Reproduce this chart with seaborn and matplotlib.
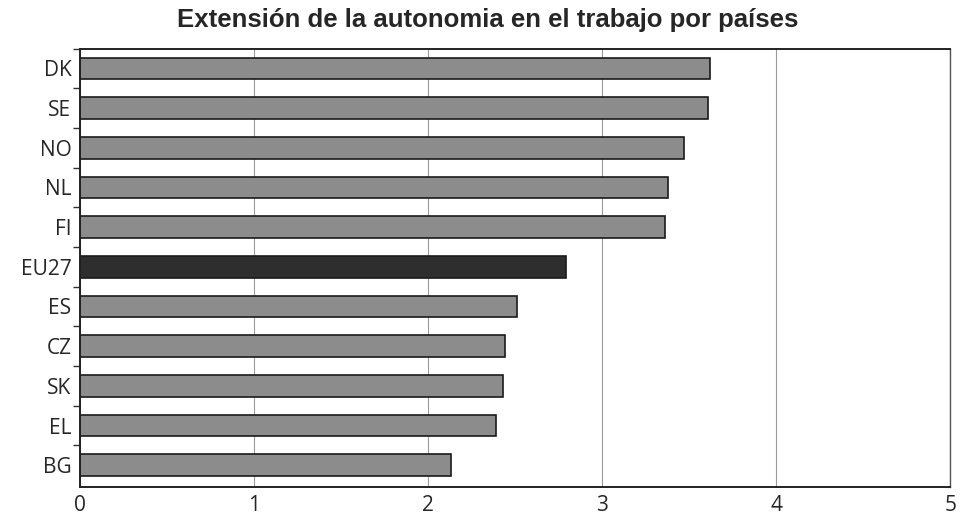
import numpy as np
import pandas as pd
import matplotlib
matplotlib.use("Agg")
import matplotlib.pyplot as plt
import seaborn as sns

# datos
paises = ["DK", "SE", "NO", "NL", "FI", "EU27", "ES", "CZ", "SK", "EL", "BG"]
valores = [3.62, 3.61, 3.47, 3.38, 3.36, 2.79, 2.51, 2.44, 2.43, 2.39, 2.13]
colores = ["#8c8c8c"] * 5 + ["#2e2e2e"] + ["#8c8c8c"] * 5

sns.set_style("white")
plt.rcParams['font.family'] = ['Open Sans', 'DejaVu Sans']

df = pd.DataFrame({"pais": paises, "valor": valores})

fig = plt.figure(figsize=(9.6, 5.17), dpi=100)
ax = fig.add_axes([0.083, 0.058, 0.907, 0.848])

sns.barplot(data=df, x="valor", y="pais", hue="pais", palette=colores,
            legend=False, width=0.55, edgecolor="#1a1a1a", linewidth=1.2,
            orient="h", ax=ax)

ax.set_xlim(0, 5)
ax.set_ylim(len(paises) - 0.45, -0.5)
ax.set_xticks([0, 1, 2, 3, 4, 5])
ax.set_xticklabels(["0", "1", "2", "3", "4", "5"], fontsize=15)
ax.set_yticks(range(len(paises)))
ax.set_yticklabels(paises, fontsize=15)
ax.set_yticks(np.arange(-0.5, len(paises) - 0.5, 1), minor=True)
ax.tick_params(axis="y", which="major", length=0, pad=6)
ax.tick_params(axis="y", which="minor", length=5, width=1, color="#333333", direction="out", left=True)
ax.tick_params(axis="x", length=0, pad=6)
ax.set_xlabel("")
ax.set_ylabel("")

ax.grid(axis="x", color="#9a9a9a", linewidth=0.8)
ax.set_axisbelow(True)
for s in ["left", "bottom", "top"]:
    ax.spines[s].set_color("#222222")
    ax.spines[s].set_linewidth(1.4)
ax.spines["right"].set_color("#555555")
ax.spines["right"].set_linewidth(1.0)

fig.suptitle("Extensión de la autonomia en el trabajo por países", x=0.508, y=0.985,
             fontsize=18.5, fontweight="bold", family=["Liberation Sans", "DejaVu Sans"])

plt.savefig("out.png", dpi=100)
